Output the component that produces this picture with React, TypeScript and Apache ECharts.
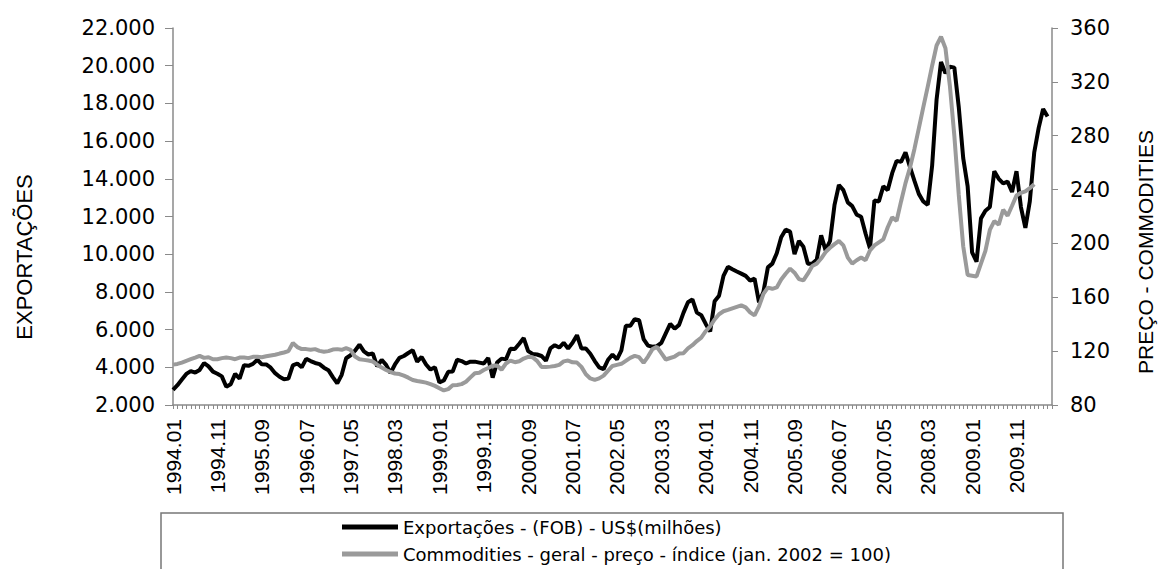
import React, { useEffect, useRef } from "react";
import * as echarts from "echarts";

// Monthly categories 1994.01 .. 2010.07
const firstYear = 1994;
const monthCount = 199;
const categories: string[] = [];
for (let i = 0; i < monthCount; i++) {
  const y = firstYear + Math.floor(i / 12);
  const m = (i % 12) + 1;
  categories.push(`${y}.${m < 10 ? "0" + m : m}`);
}

const leftTickLabels = [
  "2.000", "4.000", "6.000", "8.000", "10.000", "12.000",
  "14.000", "16.000", "18.000", "20.000", "22.000",
];

// Exportações - (FOB) - US$(milhões), 1994.01 .. 2010.06
const exportsFob = [
  2800, 3050, 3350, 3650, 3800, 3720, 3860, 4230, 4050, 3770,
  3660, 3520, 2970, 3100, 3650, 3400, 4110, 4080, 4180, 4400,
  4160, 4150, 3980, 3690, 3500, 3370, 3400, 4100, 4200, 4000,
  4450, 4330, 4230, 4170, 3980, 3850, 3480, 3150, 3600, 4480,
  4640, 4880, 5200, 4840, 4680, 4740, 4050, 4400, 4130, 3700,
  4150, 4500, 4600, 4760, 4900, 4300, 4550, 4150, 3880, 4000,
  3200, 3300, 3760, 3780, 4400, 4330, 4200, 4300, 4300, 4250,
  4200, 4500, 3450, 4250, 4460, 4420, 4980, 4970, 5250, 5550,
  4860, 4710, 4680, 4600, 4350, 5000, 5170, 5050, 5300, 5000,
  5300, 5700, 5000, 5000, 4720, 4330, 4000, 3900, 4400, 4670,
  4420, 4900, 6200, 6200, 6550, 6500, 5500, 5150, 5090, 5120,
  5300, 5800, 6300, 6050, 6250, 6900, 7450, 7600, 6900, 6760,
  6300, 5900, 7500, 7800, 8850, 9330, 9200, 9080, 8970, 8850,
  8600, 8700, 7450, 8000, 9300, 9500, 10050, 10900, 11300, 11200,
  10000, 10700, 10400, 9500, 9500, 9700, 11000, 10200, 10700, 12600,
  13670, 13400, 12750, 12550, 12100, 11990, 11100, 10300, 12850, 12800,
  13600, 13400, 14300, 14950, 14900, 15400, 14630, 13900, 13200, 12800,
  12620, 14700, 18200, 20200, 19600, 19950, 19900, 17800, 15100, 13600,
  10100, 9600, 11900, 12300, 12500, 14400, 14000, 13760, 13850, 13300,
  14400, 12500, 11400, 12800, 15400, 16700, 17700, 17300,
];

// Commodities - geral - preço - índice (jan. 2002 = 100), 1994.01 .. 2010.03
const commodityIndex = [
  110, 110.5, 111.5, 112.8, 114, 115.2, 116.5, 115, 115.5, 114,
  114, 114.8, 115.3, 114.8, 114, 115.2, 115.3, 114.8, 115.8, 115.8,
  115.5, 116.2, 116.8, 117.3, 118.2, 119, 120, 126, 123, 121.5,
  121.5, 121, 121.5, 120.2, 119.5, 120, 121.2, 121.5, 121, 122.2,
  121, 116, 114, 113.5, 113, 112.3, 110, 107.8, 106, 104.5,
  103.4, 103, 101.8, 100.3, 98.6, 97.8, 97.2, 96.6, 95.5, 94.2,
  92.5, 90.8, 91.8, 94.6, 94.9, 95.5, 97.3, 100.5, 103.6, 104,
  106, 107.5, 109.2, 109.3, 106.2, 110.8, 113, 111.8, 112.5, 114.5,
  115.8, 115.5, 112.8, 108.3, 108.2, 108.5, 109, 109.8, 112.4, 113,
  111.7, 111.5, 108.3, 102.8, 99.7, 98.6, 99.8, 101.8, 105.5, 109,
  109.8, 110.6, 112.8, 115, 116.5, 115.5, 111.3, 116, 121.5, 123.2,
  118.5, 113.8, 114.9, 116, 118.2, 118.5, 122, 124.4, 127.5, 130,
  134.8, 138.5, 143.5, 147.4, 149.6, 150.6, 151.8, 152.9, 154, 152.5,
  148.8, 146.5, 153.2, 162.5, 167.2, 166.3, 167.3, 173.2, 177.5, 181.3,
  178.3, 173.5, 172.5, 177.5, 183.3, 185, 188.8, 193.6, 196.8, 199.5,
  201.8, 198.6, 189.5, 185, 187.5, 189.5, 187.5, 194.8, 198.5, 200.8,
  203, 212, 219.3, 216.8, 231.2, 244.8, 256.2, 270, 285.5, 301,
  316.3, 332, 347, 353.5, 345, 317, 280, 236, 197.9, 176.5,
  176, 175.5, 185, 194.5, 210, 216.5, 214, 225, 220.6, 228,
  235.6, 237.6, 238.6, 241, 244,
];

const seriesNames = [
  "Exportações - (FOB) - US$(milhões)",
  "Commodities - geral - preço - índice (jan. 2002 = 100)",
];

export default function App() {
  const ref = useRef<HTMLDivElement>(null);

  useEffect(() => {
    if (!ref.current) return;
    const chart = echarts.init(ref.current, null, { renderer: "svg" });
    const axisGray = "#8a8a8a";
    chart.setOption({
      animation: false,
      backgroundColor: "#ffffff",
      grid: { left: 173, right: 107, top: 28, bottom: 164 },
      legend: {
        orient: "vertical",
        left: 342,
        top: 518,
        padding: 0,
        itemGap: 9,
        itemWidth: 56,
        itemHeight: 5,
        icon: "rect",
        data: seriesNames,
        textStyle: { fontFamily: "DejaVu Sans", fontSize: 18, color: "#000" },
      },
      xAxis: {
        type: "category",
        data: categories,
        boundaryGap: false,
        axisLine: { lineStyle: { color: axisGray, width: 1.5 } },
        axisTick: { interval: 0, length: 4, lineStyle: { color: axisGray } },
        axisLabel: {
          interval: 9,
          rotate: 90,
          margin: 14,
          fontFamily: "Liberation Sans",
          fontSize: 21,
          color: "#000",
        },
        splitLine: { show: false },
      },
      yAxis: [
        {
          type: "value",
          position: "left",
          min: 2000,
          max: 22000,
          interval: 2000,
          axisLine: { show: true, lineStyle: { color: axisGray, width: 1.5 } },
          axisTick: { show: true, length: 8, lineStyle: { color: axisGray } },
          splitLine: { show: false },
          axisLabel: {
            margin: 18,
            fontFamily: "DejaVu Sans",
            fontSize: 21,
            color: "#000",
            formatter: (v: number) => leftTickLabels[Math.round((v - 2000) / 2000)],
          },
        },
        {
          type: "value",
          position: "right",
          min: 80,
          max: 360,
          interval: 40,
          axisLine: { show: true, lineStyle: { color: axisGray, width: 1.5 } },
          axisTick: { show: true, length: 6, lineStyle: { color: axisGray } },
          splitLine: { show: false },
          axisLabel: {
            margin: 18,
            fontFamily: "DejaVu Sans",
            fontSize: 21,
            color: "#000",
          },
        },
      ],
      series: [
        {
          name: seriesNames[0],
          type: "line",
          yAxisIndex: 0,
          data: exportsFob,
          symbol: "none",
          showSymbol: false,
          color: "#000000",
          lineStyle: { color: "#000000", width: 4 },
        },
        {
          name: seriesNames[1],
          type: "line",
          yAxisIndex: 1,
          data: commodityIndex,
          symbol: "none",
          showSymbol: false,
          color: "#9a9a9a",
          lineStyle: { color: "#9a9a9a", width: 4 },
        },
      ],
      graphic: [
        {
          type: "text",
          x: 24,
          y: 257,
          rotation: Math.PI / 2,
          style: {
            text: "EXPORTAÇÕES",
            fontFamily: "Liberation Sans",
            fontSize: 22,
            fill: "#000",
            align: "center",
            verticalAlign: "middle",
          },
        },
        {
          type: "text",
          x: 1145,
          y: 252,
          rotation: Math.PI / 2,
          style: {
            text: "PREÇO - COMMODITIES",
            fontFamily: "Liberation Sans",
            fontSize: 21,
            fill: "#000",
            align: "center",
            verticalAlign: "middle",
          },
        },
        {
          type: "rect",
          shape: { x: 161, y: 513, width: 902, height: 70 },
          style: { fill: "none", stroke: "#777", lineWidth: 1.5 },
          z: -1,
        },
      ],
    });
    return () => chart.dispose();
  }, []);

  return (
    <div
      ref={ref}
      style={{ position: "absolute", left: 0, top: 0, width: 1159, height: 569 }}
    />
  );
}
